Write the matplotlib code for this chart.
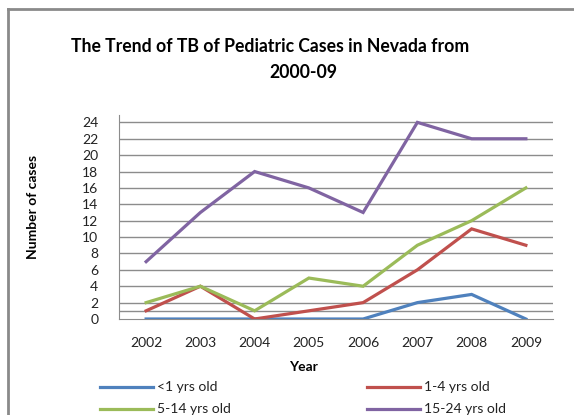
import matplotlib
matplotlib.use("Agg")
import matplotlib.pyplot as plt
from matplotlib.lines import Line2D

# Data
years = ["2002", "2003", "2004", "2005", "2006", "2007", "2008", "2009"]
under_1 = [0, 0, 0, 0, 0, 2, 3, 0]
age_1_4 = [1, 4, 0, 1, 2, 6, 11, 9]
age_5_14 = [2, 4, 1, 5, 4, 9, 12, 16]
age_15_24 = [7, 13, 18, 16, 13, 24, 22, 22]
series_labels = ["<1 yrs old", "1-4 yrs old", "5-14 yrs old", "15-24 yrs old"]
y_ticks = list(range(0, 25, 2))

COLORS = ["#4F81BD", "#C0504D", "#9BBB59", "#8064A2"]
GRID = "#8C8C8C"
W, H = 574, 415

plt.rcParams["font.family"] = ["Lato", "DejaVu Sans"]

fig = plt.figure(figsize=(W / 100, H / 100), dpi=100)
ax = fig.add_axes([119 / W, 1 - 319 / H, (553 - 119) / W, (319 - 115) / H])

x = list(range(len(years)))
for vals, color in zip([under_1, age_1_4, age_5_14, age_15_24], COLORS):
    ax.plot(x, vals, color=color, lw=2.3, solid_joinstyle="miter", zorder=3)

ax.set_xlim(-0.5, len(years) - 0.5)
ax.set_ylim(0, 24.9)
ax.set_xticks(x)
ax.set_xticklabels(years)
ax.set_yticks(y_ticks)
ax.tick_params(axis="both", length=0, labelsize=10, colors="#222222")
ax.tick_params(axis="y", pad=15)
ax.tick_params(axis="x", pad=13)

# gridlines (also one at 1, as in the reference)
for g in y_ticks[1:] + [1]:
    ax.axhline(g, color=GRID, lw=1.0, zorder=1)

for side in ["top", "right"]:
    ax.spines[side].set_visible(False)
ax.spines["left"].set_color(GRID)
ax.spines["bottom"].set_color(GRID)

fig.text(270 / W, 1 - 47 / H, "The Trend of TB of Pediatric Cases in Nevada from",
         ha="center", va="center", fontsize=12.7, fontweight="bold")
fig.text(303 / W, 1 - 72 / H, "2000-09",
         ha="center", va="center", fontsize=12.7, fontweight="bold")
fig.text(33 / W, 1 - 207 / H, "Number of cases", rotation=90,
         ha="center", va="center", fontsize=10, fontweight="bold")
fig.text(303 / W, 1 - 367 / H, "Year",
         ha="center", va="center", fontsize=10, fontweight="bold")

# legend drawn by hand to match layout
legend_pos = [(100, 387), (367, 387), (100, 409), (367, 409)]
for (lx, ly), color, label in zip(legend_pos, COLORS, series_labels):
    fig.add_artist(Line2D([lx / W, (lx + 53) / W], [1 - ly / H, 1 - ly / H],
                          color=color, lw=2.3))
    fig.text((lx + 57) / W, 1 - ly / H, label, ha="left", va="center",
             fontsize=10, color="#222222")

# outer chart frame (top and left edges visible)
fig.add_artist(Line2D([8 / W, 1.0], [1 - 9 / H, 1 - 9 / H], color="#8A8A8A", lw=2))
fig.add_artist(Line2D([8 / W, 8 / W], [1 - 9 / H, 0.0], color="#8A8A8A", lw=2))

fig.savefig("out.png", dpi=100)
